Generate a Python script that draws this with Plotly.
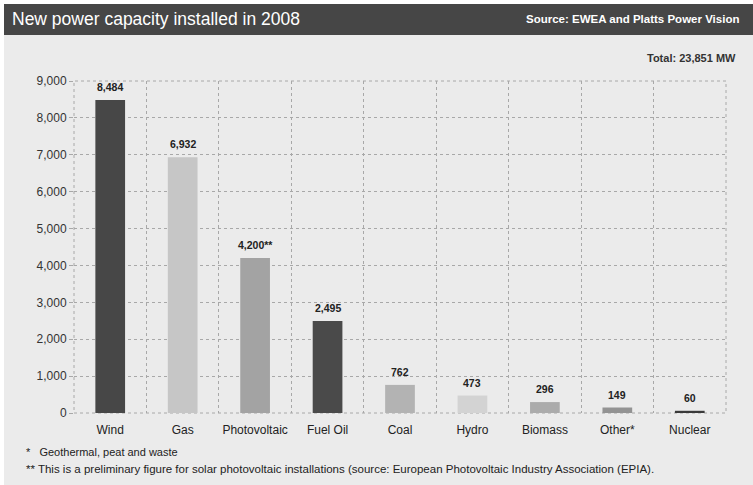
import plotly.graph_objects as go

categories = ["Wind", "Gas", "Photovoltaic", "Fuel Oil", "Coal", "Hydro", "Biomass", "Other*", "Nuclear"]
values = [8484, 6932, 4200, 2495, 762, 473, 296, 149, 60]
label_suffix = ["", "", "**", "", "", "", "", "", ""]
bar_colors = ["#474747", "#c6c6c6", "#a3a3a3", "#4a4a4a", "#b3b3b3", "#d3d3d3", "#ababab", "#939393", "#3a3a3a"]
y_ticks = [0, 1000, 2000, 3000, 4000, 5000, 6000, 7000, 8000, 9000]
y_tick_text = ["0", "1,000", "2,000", "3,000", "4,000", "5,000", "6,000", "7,000", "8,000", "9,000"]

title_text = "New power capacity installed in 2008"
source_text = "Source: EWEA and Platts Power Vision"
total_text = "Total: 23,851 MW"
footnotes = ["*   Geothermal, peat and waste",
             "** This is a preliminary figure for solar photovoltaic installations (source: European Photovoltaic Industry Association (EPIA)."]

FONT = "Liberation Sans, Arial, sans-serif"

W, H = 753, 485
ML, MR, MT, MB = 74, 27, 81, 72
PW, PH = W - ML - MR, H - MT - MB


def px(x):
    return (x - ML) / PW


def py(y):
    return (H - MB - y) / PH


fig = go.Figure()
fig.add_trace(go.Bar(
    x=categories, y=values,
    marker=dict(color=bar_colors, line=dict(width=0)),
    width=0.41,
    hoverinfo="skip",
))

annotations = []
for c, v, s in zip(categories, values, label_suffix):
    annotations.append(dict(
        x=c, y=v, xref="x", yref="y", text=f"<b>{v:,}{s}</b>", showarrow=False,
        yanchor="bottom", yshift=5, font=dict(family=FONT, size=10.5, color="#222222"),
    ))

annotations += [
    dict(x=px(10), y=py(19), xref="paper", yref="paper", xanchor="left", yanchor="middle",
         text=title_text, showarrow=False, font=dict(family=FONT, size=17.5, color="#ffffff")),
    dict(x=px(741), y=py(19), xref="paper", yref="paper", xanchor="right", yanchor="middle",
         text=f"<b>{source_text}</b>", showarrow=False, font=dict(family=FONT, size=11.5, color="#ffffff")),
    dict(x=px(738), y=py(58), xref="paper", yref="paper", xanchor="right", yanchor="middle",
         text=f"<b>{total_text}</b>", showarrow=False, font=dict(family=FONT, size=11, color="#333333")),
    dict(x=px(24), y=py(452), xref="paper", yref="paper", xanchor="left", yanchor="middle",
         text=footnotes[0], showarrow=False, font=dict(family=FONT, size=11, color="#222222")),
    dict(x=px(24), y=py(469), xref="paper", yref="paper", xanchor="left", yanchor="middle",
         text=footnotes[1], showarrow=False, font=dict(family=FONT, size=11.5, color="#222222")),
]

shapes = [
    dict(type="rect", xref="paper", yref="paper", x0=px(4), x1=px(W), y0=py(35), y1=py(4),
         fillcolor="#464646", line=dict(width=0), layer="below"),
    dict(type="rect", xref="paper", yref="paper", x0=px(0), x1=px(W), y0=py(4), y1=py(0),
         fillcolor="#ffffff", line=dict(width=0), layer="below"),
    dict(type="rect", xref="paper", yref="paper", x0=px(0), x1=px(4), y0=py(H), y1=py(0),
         fillcolor="#ffffff", line=dict(width=0), layer="below"),
    dict(type="rect", xref="x domain", yref="y domain", x0=0, x1=1, y0=0, y1=1,
         line=dict(color="#a8a8a8", width=1, dash="dot"), layer="below"),
]

fig.update_layout(
    width=W, height=H,
    margin=dict(l=ML, r=MR, t=MT, b=MB),
    paper_bgcolor="#ebebeb", plot_bgcolor="#ebebeb",
    showlegend=False,
    annotations=annotations, shapes=shapes,
    xaxis=dict(
        type="category", range=[-0.5, 8.5], tickson="boundaries",
        showgrid=True, gridcolor="#a8a8a8", griddash="dot", gridwidth=1,
        ticks="", showline=False, zeroline=False, tickangle=0,
        tickfont=dict(family=FONT, size=12, color="#222222"),
        ticklabelstandoff=8,
    ),
    yaxis=dict(
        range=[0, 9000], tickvals=y_ticks, ticktext=y_tick_text,
        showgrid=True, gridcolor="#a8a8a8", griddash="dot", gridwidth=1,
        zeroline=False, showline=False,
        ticks="outside", ticklen=4, tickcolor="#a8a8a8",
        tickfont=dict(family=FONT, size=12, color="#333333"),
    ),
)

fig.write_html("out.html")
